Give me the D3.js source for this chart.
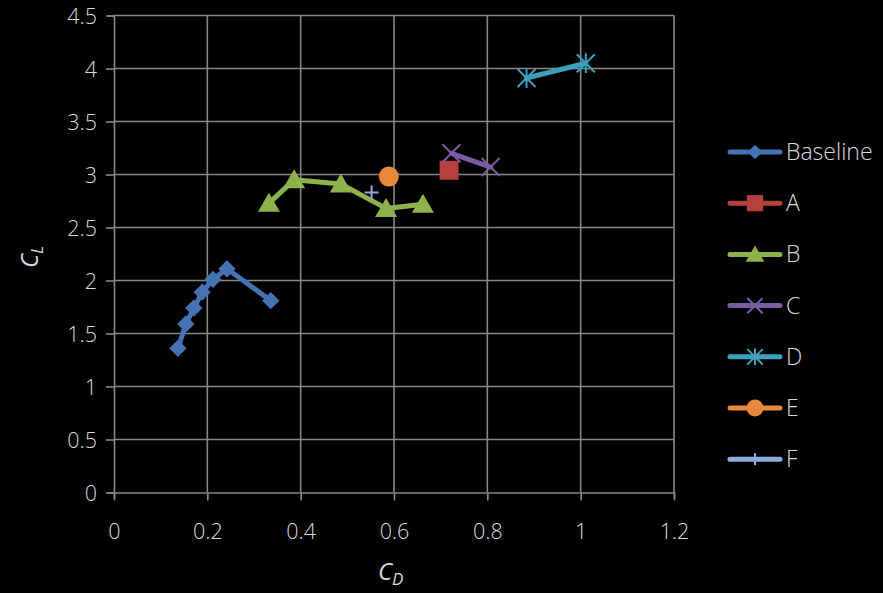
<!DOCTYPE html>
<html><head><meta charset="utf-8">
<script src="https://cdnjs.cloudflare.com/ajax/libs/d3/7.8.5/d3.min.js"></script>
<style>html,body{margin:0;padding:0;background:#000;}svg{display:block;}</style>
</head><body>
<script>
const seriesNames = ["Baseline","A","B","C","D","E","F"];
const seriesColors = ["#4472B4","#B5413D","#8DB24C","#7A5BA0","#3DA0BA","#E8883A","#8FAADC"];
const seriesMarkers = ["diamond","square","triangle","x","asterisk","circle","plus"];
const baselineCD = [0.137,0.154,0.171,0.189,0.212,0.242,0.336];
const baselineCL = [1.36,1.59,1.74,1.89,2.01,2.11,1.81];
const aCD = [0.718]; const aCL = [3.04];
const bCD = [0.332,0.386,0.486,0.583,0.662];
const bCL = [2.73,2.95,2.91,2.68,2.72];
const cCD = [0.723,0.807]; const cCL = [3.20,3.07];
const dCD = [0.884,1.011]; const dCL = [3.91,4.05];
const eCD = [0.589]; const eCL = [2.98];
const fCD = [0.552]; const fCL = [2.83];
const xTicks = [0,0.2,0.4,0.6,0.8,1,1.2];
const yTicks = [0,0.5,1,1.5,2,2.5,3,3.5,4,4.5];

const allCD = [baselineCD,aCD,bCD,cCD,dCD,eCD,fCD];
const allCL = [baselineCL,aCL,bCL,cCL,dCL,eCL,fCL];
const series = seriesNames.map((n,i)=>({name:n,color:seriesColors[i],marker:seriesMarkers[i],
  pts:allCD[i].map((x,j)=>({x:x,y:allCL[i][j]}))}));

const W=883,H=593;
const svg=d3.select("body").append("svg").attr("width",W).attr("height",H).style("background","#000");
const x=d3.scaleLinear().domain([0,1.2]).range([114,674]);
const y=d3.scaleLinear().domain([0,4.5]).range([492.5,15.5]);
const grid="#878787", txt="#d9d9d9", font="'Open Sans', 'Noto Sans', sans-serif";

// grid
svg.append("g").selectAll("line.v").data(xTicks.slice(1)).join("line")
  .attr("x1",d=>x(d)).attr("x2",d=>x(d)).attr("y1",y(0)).attr("y2",y(4.5))
  .attr("stroke",grid).attr("stroke-width",1.6);
svg.append("g").selectAll("line.h").data(yTicks.slice(1)).join("line")
  .attr("x1",x(0)).attr("x2",x(1.2)).attr("y1",d=>y(d)).attr("y2",d=>y(d))
  .attr("stroke",grid).attr("stroke-width",1.6);

// axes
const xa=svg.append("g").attr("transform",`translate(0,${y(0)})`)
  .call(d3.axisBottom(x).tickValues(xTicks).tickSize(6).tickFormat(d3.format("")));
const ya=svg.append("g").attr("transform",`translate(${x(0)},0)`)
  .call(d3.axisLeft(y).tickValues(yTicks).tickSize(6).tickFormat(d3.format("")));
[xa,ya].forEach(a=>{
  a.select(".domain").attr("stroke",grid).attr("stroke-width",1.6);
  a.selectAll(".tick line").attr("stroke",grid).attr("stroke-width",1.6);
  a.selectAll(".tick text").attr("fill",txt).style("font-family",font).style("font-size","21.5px").style("font-weight","300");
});
xa.selectAll(".tick line").attr("y1",0).attr("y2",8);
ya.selectAll(".tick line").attr("x1",0).attr("x2",-8);
xa.selectAll(".tick text").attr("dy","0").attr("y",46);
ya.selectAll(".tick text").attr("x",-17).attr("dy","0.35em");

// axis titles
const xt=svg.append("text").attr("x",378).attr("y",580).attr("fill",txt)
  .style("font-family",font).style("font-size","24px").style("font-style","italic");
xt.append("tspan").text("C");
xt.append("tspan").text("D").attr("dy",5).style("font-size","17px");
const yt=svg.append("text").attr("transform","translate(38,268) rotate(-90)").attr("fill",txt)
  .style("font-family",font).style("font-size","24px").style("font-style","italic");
yt.append("tspan").text("C");
yt.append("tspan").text("L").attr("dy",5).style("font-size","17px");

function drawMarker(g,type,color,cx,cy,scale){
  const s=scale||1;
  if(type==="diamond"){
    g.append("path").attr("d",d3.symbol(d3.symbolSquare,150*s*s)())
      .attr("transform",`translate(${cx},${cy}) rotate(45)`).attr("fill",color);
  } else if(type==="square"){
    g.append("rect").attr("x",cx-9.5*s).attr("y",cy-9.5*s).attr("width",19*s).attr("height",19*s).attr("fill",color);
  } else if(type==="triangle"){
    const h=19*s,w=22*s;
    g.append("path").attr("d",`M${cx},${cy-h*0.55}L${cx+w/2},${cy+h*0.45}L${cx-w/2},${cy+h*0.45}Z`).attr("fill",color);
  } else if(type==="circle"){
    g.append("circle").attr("cx",cx).attr("cy",cy).attr("r",10*s).attr("fill",color);
  } else if(type==="x"){
    const r=9*s;
    g.append("path").attr("d",`M${cx-r},${cy-r}L${cx+r},${cy+r}M${cx-r},${cy+r}L${cx+r},${cy-r}`)
      .attr("stroke",color).attr("stroke-width",2);
  } else if(type==="asterisk"){
    const r=9*s;
    g.append("path").attr("d",`M${cx-r},${cy-r}L${cx+r},${cy+r}M${cx-r},${cy+r}L${cx+r},${cy-r}M${cx},${cy-r*1.1}L${cx},${cy+r*1.1}`)
      .attr("stroke",color).attr("stroke-width",2);
  } else if(type==="plus"){
    const r=7*s;
    g.append("path").attr("d",`M${cx-r},${cy}L${cx+r},${cy}M${cx},${cy-r}L${cx},${cy+r}`)
      .attr("stroke",color).attr("stroke-width",2);
  }
}

const line=d3.line().x(d=>x(d.x)).y(d=>y(d.y));
series.forEach(s=>{
  const g=svg.append("g");
  if(s.pts.length>1){
    g.append("path").datum(s.pts).attr("d",line).attr("fill","none")
      .attr("stroke",s.color).attr("stroke-width",5).attr("stroke-linejoin","round").attr("stroke-linecap","round");
  }
  s.pts.forEach(p=>drawMarker(g,s.marker,s.color,x(p.x),y(p.y),1));
});

// legend
const lg=svg.append("g");
series.forEach((s,i)=>{
  const cy=152+i*51.2;
  lg.append("line").attr("x1",730).attr("x2",780).attr("y1",cy).attr("y2",cy)
    .attr("stroke",s.color).attr("stroke-width",5).attr("stroke-linecap","round");
  drawMarker(lg,s.marker,s.color,755,cy,0.85);
  lg.append("text").attr("x",786).attr("y",cy).attr("dy","0.35em").attr("fill",txt)
    .style("font-family",font).style("font-size","23px").style("font-weight","300").text(s.name);
});
</script>
</body></html>
